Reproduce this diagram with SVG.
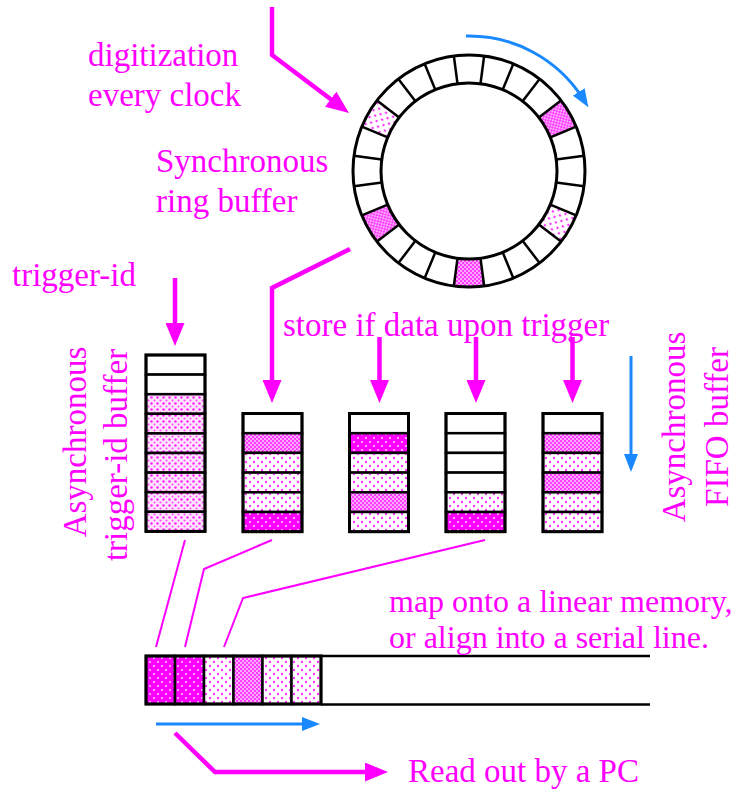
<svg xmlns="http://www.w3.org/2000/svg" width="755" height="793" viewBox="0 0 755 793">
<style>
.t{font-family:"Liberation Serif","Times New Roman",serif;font-size:33px;fill:#ff00ff}
.s{font-size:32px}
.m{stroke:#ff00ff;stroke-width:4.5;fill:none}
.thin{stroke:#ff00ff;stroke-width:2;fill:none}
.b{stroke:#1a88ff;stroke-width:3;fill:none}
.c{stroke:#000;stroke-width:2.5}
.o{fill:none;stroke:#000;stroke-width:3}
.w{fill:#fff}
.S{fill:url(#pS)}
.D{fill:url(#pD)}
.K{fill:url(#pK)}
.T{fill:url(#pT)}
</style>
<defs>
<pattern id="pS" width="8" height="8" patternUnits="userSpaceOnUse">
<rect width="8" height="8" fill="#fff"/>
<circle cx="2" cy="2" r="1.2" fill="#ff33ff"/>
<circle cx="6" cy="6" r="1.2" fill="#ff33ff"/>
</pattern>
<pattern id="pD" width="4" height="4" patternUnits="userSpaceOnUse">
<rect width="4" height="4" fill="#ffa8ff"/>
<rect width="2" height="2" fill="#ff3cff"/>
<rect x="2" y="2" width="2" height="2" fill="#ff3cff"/>
</pattern>
<pattern id="pK" width="8" height="8" patternUnits="userSpaceOnUse">
<rect width="8" height="8" fill="#ff00ff"/>
<circle cx="2" cy="2" r="1" fill="#ffd0ff"/>
<circle cx="6" cy="6" r="1" fill="#ffd0ff"/>
</pattern>
<pattern id="pT" width="6" height="6" patternUnits="userSpaceOnUse">
<rect width="6" height="6" fill="#ffe4ff"/>
<circle cx="1.5" cy="1.5" r="1.25" fill="#ff22ff"/>
<circle cx="4.5" cy="4.5" r="1" fill="#ff44ff"/>
</pattern>
<marker id="am" viewBox="0 0 23 19" refX="11" refY="9.5" markerWidth="23" markerHeight="19" markerUnits="userSpaceOnUse" orient="auto">
<path d="M0,0 L23,9.5 L0,19 Z" fill="#ff00ff"/>
</marker>
<marker id="ab" viewBox="0 0 18 14" refX="8" refY="7" markerWidth="18" markerHeight="14" markerUnits="userSpaceOnUse" orient="auto">
<path d="M0,0 L18,7 L0,14 Z" fill="#1a88ff"/>
</marker>
<path id="seg" d="M453.86,55.99 A116,116 0 0 1 484.14,55.99 L480.49,83.75 A88,88 0 0 0 457.51,83.75 Z"/>
<line id="rad" x1="469" y1="83" x2="469" y2="55" stroke="#000" stroke-width="2.5"/>
</defs>
<rect width="755" height="793" fill="#fff"/>

<g id="ring">
<use href="#seg" class="D" transform="rotate(60 469 171)"/>
<use href="#seg" class="S" transform="rotate(120 469 171)"/>
<use href="#seg" class="D" transform="rotate(180 469 171)"/>
<use href="#seg" class="D" transform="rotate(240 469 171)"/>
<use href="#seg" class="S" transform="rotate(300 469 171)"/>
<circle cx="469" cy="171" r="116" class="o"/>
<circle cx="469" cy="171" r="88" class="o"/>
<use href="#rad" transform="rotate(7.5 469 171)"/>
<use href="#rad" transform="rotate(22.5 469 171)"/>
<use href="#rad" transform="rotate(37.5 469 171)"/>
<use href="#rad" transform="rotate(52.5 469 171)"/>
<use href="#rad" transform="rotate(67.5 469 171)"/>
<use href="#rad" transform="rotate(82.5 469 171)"/>
<use href="#rad" transform="rotate(97.5 469 171)"/>
<use href="#rad" transform="rotate(112.5 469 171)"/>
<use href="#rad" transform="rotate(127.5 469 171)"/>
<use href="#rad" transform="rotate(142.5 469 171)"/>
<use href="#rad" transform="rotate(157.5 469 171)"/>
<use href="#rad" transform="rotate(172.5 469 171)"/>
<use href="#rad" transform="rotate(187.5 469 171)"/>
<use href="#rad" transform="rotate(202.5 469 171)"/>
<use href="#rad" transform="rotate(217.5 469 171)"/>
<use href="#rad" transform="rotate(232.5 469 171)"/>
<use href="#rad" transform="rotate(247.5 469 171)"/>
<use href="#rad" transform="rotate(262.5 469 171)"/>
<use href="#rad" transform="rotate(277.5 469 171)"/>
<use href="#rad" transform="rotate(292.5 469 171)"/>
<use href="#rad" transform="rotate(307.5 469 171)"/>
<use href="#rad" transform="rotate(322.5 469 171)"/>
<use href="#rad" transform="rotate(337.5 469 171)"/>
<use href="#rad" transform="rotate(352.5 469 171)"/>
</g>

<g id="trigger-buffer">
<rect x="146" y="355" width="59" height="19.6" class="w c"/>
<rect x="146" y="374.6" width="59" height="19.6" class="w c"/>
<rect x="146" y="394.2" width="59" height="19.6" class="T c"/>
<rect x="146" y="413.8" width="59" height="19.6" class="T c"/>
<rect x="146" y="433.4" width="59" height="19.6" class="T c"/>
<rect x="146" y="453" width="59" height="19.6" class="T c"/>
<rect x="146" y="472.6" width="59" height="19.6" class="T c"/>
<rect x="146" y="492.2" width="59" height="19.6" class="T c"/>
<rect x="146" y="511.8" width="59" height="19.6" class="T c"/>
<rect x="146" y="355" width="59" height="176.4" class="o"/>
</g>

<g id="fifo1">
<rect x="243" y="413.5" width="59" height="19.7" class="w c"/>
<rect x="243" y="433.2" width="59" height="19.7" class="D c"/>
<rect x="243" y="452.9" width="59" height="19.7" class="S c"/>
<rect x="243" y="472.6" width="59" height="19.7" class="S c"/>
<rect x="243" y="492.3" width="59" height="19.7" class="S c"/>
<rect x="243" y="512" width="59" height="19.7" class="K c"/>
<rect x="243" y="413.5" width="59" height="118.2" class="o"/>
</g>

<g id="fifo2">
<rect x="349.5" y="413.5" width="59" height="19.7" class="w c"/>
<rect x="349.5" y="433.2" width="59" height="19.7" class="K c"/>
<rect x="349.5" y="452.9" width="59" height="19.7" class="S c"/>
<rect x="349.5" y="472.6" width="59" height="19.7" class="S c"/>
<rect x="349.5" y="492.3" width="59" height="19.7" class="D c"/>
<rect x="349.5" y="512" width="59" height="19.7" class="S c"/>
<rect x="349.5" y="413.5" width="59" height="118.2" class="o"/>
</g>

<g id="fifo3">
<rect x="446" y="413.5" width="59" height="19.7" class="w c"/>
<rect x="446" y="433.2" width="59" height="19.7" class="w c"/>
<rect x="446" y="452.9" width="59" height="19.7" class="w c"/>
<rect x="446" y="472.6" width="59" height="19.7" class="w c"/>
<rect x="446" y="492.3" width="59" height="19.7" class="S c"/>
<rect x="446" y="512" width="59" height="19.7" class="K c"/>
<rect x="446" y="413.5" width="59" height="118.2" class="o"/>
</g>

<g id="fifo4">
<rect x="543" y="413.5" width="59" height="19.7" class="w c"/>
<rect x="543" y="433.2" width="59" height="19.7" class="D c"/>
<rect x="543" y="452.9" width="59" height="19.7" class="S c"/>
<rect x="543" y="472.6" width="59" height="19.7" class="D c"/>
<rect x="543" y="492.3" width="59" height="19.7" class="S c"/>
<rect x="543" y="512" width="59" height="19.7" class="S c"/>
<rect x="543" y="413.5" width="59" height="118.2" class="o"/>
</g>

<g id="linear-memory">
<rect x="146" y="656" width="29" height="48" class="K c"/>
<rect x="175" y="656" width="29" height="48" class="K c"/>
<rect x="204" y="656" width="29.5" height="48" class="S c"/>
<rect x="233.5" y="656" width="29" height="48" class="D c"/>
<rect x="262.5" y="656" width="29" height="48" class="S c"/>
<rect x="291.5" y="656" width="29.5" height="48" class="S c"/>
<rect x="146" y="656" width="175" height="48" class="o"/>
<line x1="321" y1="656" x2="650" y2="656" stroke="#000" stroke-width="2.5"/>
<line x1="321" y1="704.5" x2="650" y2="704.5" stroke="#000" stroke-width="2.5"/>
</g>

<g id="connectors">
<path class="m" d="M272,7 L272,55 L339.4,105.8" marker-end="url(#am)"/>
<path class="m" d="M350,249 L272,288 L272,391" marker-end="url(#am)"/>
<path class="m" d="M175,278 L175,334" marker-end="url(#am)"/>
<path class="m" d="M379.5,337 L379.5,391" marker-end="url(#am)"/>
<path class="m" d="M476,337 L476,391" marker-end="url(#am)"/>
<path class="m" d="M572.5,337 L572.5,391" marker-end="url(#am)"/>
<path class="m" d="M175,733 L215,772 L376,772" marker-end="url(#am)"/>
<path class="b" d="M465.9,36 A135,135 0 0 1 583,98.7" marker-end="url(#ab)"/>
<path class="b" d="M631,356 L631,462" marker-end="url(#ab)"/>
<path class="b" d="M156,724 L310,724" marker-end="url(#ab)"/>
<path class="thin" d="M185,540 L156,647"/>
<path class="thin" d="M272,540 L204,569 L185,647"/>
<path class="thin" d="M485,540 L243,598 L224,647"/>
</g>

<g id="labels">
<text class="t" x="88" y="66">digitization</text>
<text class="t" x="88" y="106">every clock</text>
<text class="t" x="156" y="172">Synchronous</text>
<text class="t" x="156" y="212">ring buffer</text>
<text class="t" x="12" y="286">trigger-id</text>
<text class="t" x="283" y="336">store if data upon trigger</text>
<text class="t s" x="389" y="612">map onto a linear memory,</text>
<text class="t s" x="389" y="648">or align into a serial line.</text>
<text class="t" x="408" y="782">Read out by a PC</text>
<text class="t" text-anchor="middle" transform="translate(86,442) rotate(-90)">Asynchronous</text>
<text class="t" text-anchor="middle" transform="translate(127,455) rotate(-90)">trigger-id buffer</text>
<text class="t" text-anchor="middle" transform="translate(685,427) rotate(-90)">Asynchronous</text>
<text class="t" text-anchor="middle" transform="translate(728,427) rotate(-90)">FIFO buffer</text>
</g>
</svg>
